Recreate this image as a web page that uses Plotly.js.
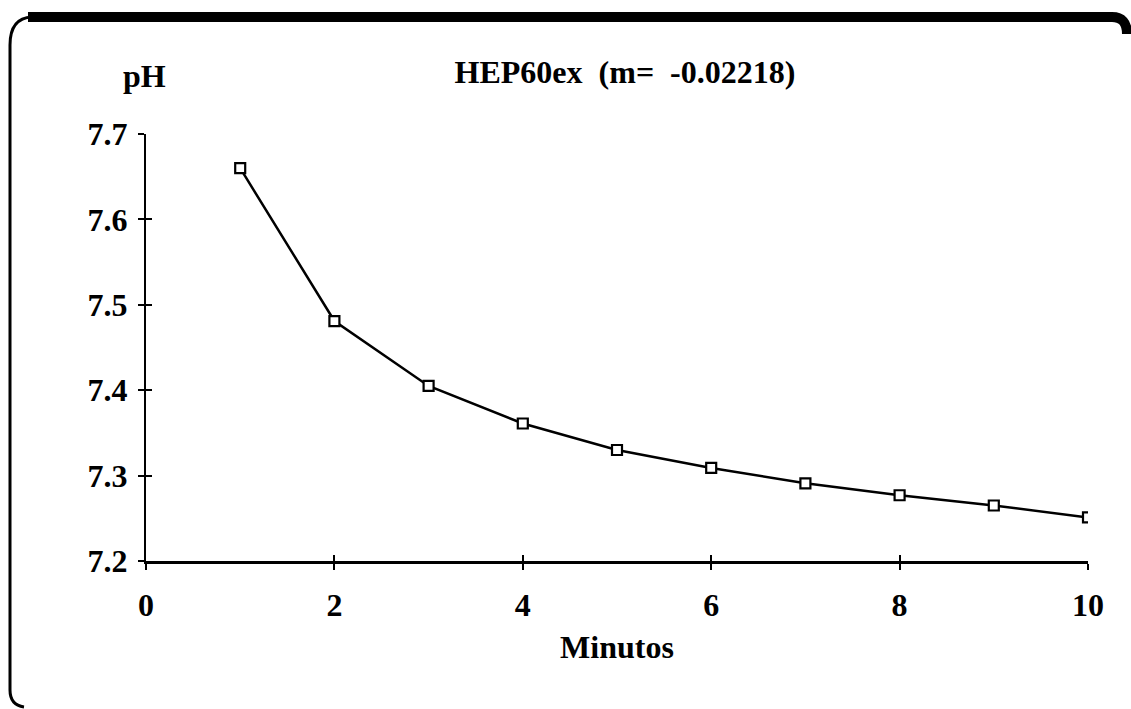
<!DOCTYPE html>
<html>
<head>
<meta charset="utf-8">
<script src="https://cdn.plot.ly/plotly-3.0.1.min.js"></script>
<style>
html,body{margin:0;padding:0;background:#fff;}
#chart{width:1131px;height:709px;}
</style>
</head>
<body>
<div id="chart"></div>
<script>
// Data
const minutos = [1, 2, 3, 4, 5, 6, 7, 8, 9, 10];
const ph = [7.660, 7.481, 7.405, 7.361, 7.330, 7.309, 7.291, 7.277, 7.265, 7.251];
const titleText = 'HEP60ex  (m=  -0.02218)';
const yLabel = 'pH';
const xLabel = 'Minutos';

const W = 1131, H = 709;
const M = {l: 146, r: 43, t: 134, b: 148};
const PW = W - M.l - M.r, PH = H - M.t - M.b;
function px(x) { return ((x - M.l) / PW).toFixed(5); }
function py(y) { return ((H - M.b - y) / PH).toFixed(5); }

const FAM = '"Liberation Serif", "Times New Roman", serif';
const FS = 32;

const traces = [
  {
    x: minutos, y: ph, type: 'scatter', mode: 'lines+markers',
    line: {color: '#000', width: 2.5},
    marker: {symbol: 'square', size: 10, color: '#fff', line: {color: '#000', width: 2.2}},
    hoverinfo: 'x+y', showlegend: false
  },
  {
    x: minutos, y: ph, xaxis: 'x2', yaxis: 'y2', type: 'scatter', mode: 'lines',
    line: {color: 'rgba(0,0,0,0)', width: 0}, hoverinfo: 'skip', showlegend: false
  }
];

const frameTop = 'M ' + px(28) + ' ' + py(17) + ' L ' + px(1112) + ' ' + py(17) +
  ' Q ' + px(1127) + ' ' + py(17) + ' ' + px(1127) + ' ' + py(34);
const frameLeft = 'M ' + px(24) + ' ' + py(707) + ' Q ' + px(10) + ' ' + py(705) + ' ' + px(10) + ' ' + py(690) +
  ' L ' + px(10) + ' ' + py(45) + ' Q ' + px(10) + ' ' + py(18) + ' ' + px(32) + ' ' + py(17);

const layout = {
  width: W, height: H,
  margin: M,
  paper_bgcolor: '#fff', plot_bgcolor: '#fff',
  font: {family: FAM, size: FS, color: '#000'},
  showlegend: false,
  title: {
    text: '<b>' + titleText + '</b>',
    font: {family: FAM, size: FS, color: '#000'},
    xref: 'paper', x: 0.5085, xanchor: 'center',
    yref: 'container', y: 1 - 72 / H, yanchor: 'middle'
  },
  xaxis: {
    range: [0, 10], dtick: 2, tick0: 0,
    showgrid: false, zeroline: false,
    showline: true, linecolor: '#000', linewidth: 3,
    ticks: 'outside', ticklen: 6, tickwidth: 2, tickcolor: '#000',
    ticklabelstandoff: 8,
    tickfont: {family: FAM, size: FS, color: '#000', weight: 'bold'},
    title: {text: '<b>' + xLabel + '</b>', font: {family: FAM, size: FS, color: '#000'}, standoff: 14},
    fixedrange: true
  },
  yaxis: {
    range: [7.2, 7.7], dtick: 0.1, tick0: 7.2, tickformat: '.1f',
    showgrid: false, zeroline: false,
    showline: true, linecolor: '#000', linewidth: 2,
    ticks: 'outside', ticklen: 6, tickwidth: 2, tickcolor: '#000',
    ticklabelstandoff: 4,
    tickfont: {family: FAM, size: FS, color: '#000', weight: 'bold'},
    fixedrange: true
  },
  xaxis2: {
    overlaying: 'x', anchor: 'y2', range: [0, 10], dtick: 2, tick0: 0,
    showgrid: false, zeroline: false, showline: false, showticklabels: false,
    ticks: 'inside', ticklen: 6, tickwidth: 2, tickcolor: '#000', side: 'bottom'
  },
  yaxis2: {
    overlaying: 'y', anchor: 'x2', range: [7.2, 7.7], dtick: 0.1, tick0: 7.2,
    showgrid: false, zeroline: false, showline: false, showticklabels: false,
    ticks: 'inside', ticklen: 6, tickwidth: 2, tickcolor: '#000', side: 'left'
  },
  annotations: [
    {
      text: '<b>' + yLabel + '</b>', xref: 'paper', yref: 'paper',
      x: px(144), y: py(76), xanchor: 'center', yanchor: 'middle',
      showarrow: false, font: {family: FAM, size: FS, color: '#000'}
    }
  ],
  shapes: [
    {type: 'path', xref: 'paper', yref: 'paper', path: frameTop, line: {color: '#000', width: 10}},
    {type: 'path', xref: 'paper', yref: 'paper', path: frameLeft, line: {color: '#000', width: 3}}
  ]
};

Plotly.newPlot('chart', traces, layout, {displayModeBar: false, staticPlot: true});
</script>
</body>
</html>
